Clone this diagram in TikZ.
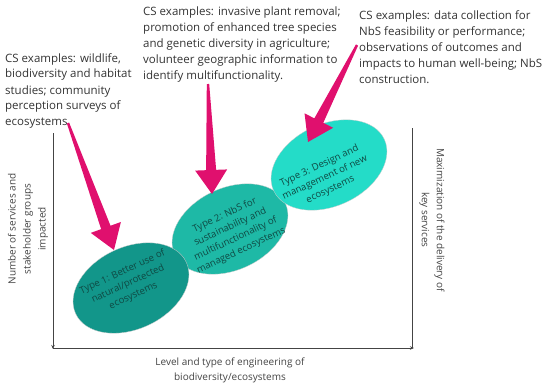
\documentclass[tikz,border=0pt]{standalone}
\usepackage{fontspec}
\setmainfont{Open Sans}
\usetikzlibrary{shapes.geometric,calc,arrows.meta}
\definecolor{pinkarrow}{HTML}{E0106E}
\definecolor{tone}{HTML}{12968A}
\definecolor{ttwo}{HTML}{1EB9A6}
\definecolor{tthree}{HTML}{24DCC8}
\definecolor{etextc}{HTML}{0F4A44}
\definecolor{txt}{HTML}{333333}
\definecolor{axc}{HTML}{444444}
\newcommand\csarrow[2]{%
  \coordinate (#1h) at ($(#2)!24pt!(#1)$);
  \fill[pinkarrow] ($(#1)!1.2pt!90:(#2)$) -- ($(#1h)!5pt!90:(#2)$) -- ($(#1h)!16pt!90:(#2)$) -- (#2)
    -- ($(#1h)!16pt!-90:(#2)$) -- ($(#1h)!5pt!-90:(#2)$) -- ($(#1)!1.2pt!-90:(#2)$) -- cycle;}
\begin{document}
\begin{tikzpicture}[x=1pt,y=-1pt,
  cstext/.style={text=txt,font=\fontsize{11.5}{16}\selectfont,align=left,inner sep=0pt,anchor=north west},
  eli/.style={ellipse,minimum width=122pt,minimum height=82pt,rotate=25,inner sep=0pt,draw=black!20,line width=0.3pt},
  etext/.style={text=etextc,font=\fontsize{9.6}{13}\selectfont,align=center,rotate=25,inner sep=0pt},
  axtext/.style={text=axc,font=\fontsize{10}{15}\selectfont,align=center,inner sep=0pt},
  axis/.style={draw=axc,line width=0.8pt}]
\useasboundingbox (0,0) rectangle (550,388);
% text blocks
\node[cstext] (cs1) at (5,53) {CS examples: wildlife,\\biodiversity and habitat\\studies; community\\perception surveys of\\ecosystems.};
\node[cstext] (cs2) at (143,7) {CS examples: invasive plant removal;\\promotion of enhanced tree species\\and genetic diversity in agriculture;\\volunteer geographic information to\\identify multifunctionality.};
\node[cstext] (cs3) at (359,11) {CS examples: data collection for\\NbS feasibility or performance;\\observations of outcomes and\\impacts to human well-being; NbS\\construction.};
% axes
\coordinate (ltop) at (53,133);
\coordinate (corner) at (53,349);
\coordinate (xstart) at (53,348);
\coordinate (xend) at (414,348);
\coordinate (rtop) at (412,128);
\coordinate (rbot) at (412,348);
\draw[axis,-{Stealth[length=4pt,width=3.5pt]}] (ltop) -- (corner);
\draw[axis,-{Stealth[length=4pt,width=3.5pt]}] (xstart) -- (xend);
\draw[axis] (rtop) -- (rbot);
% ellipses
\node[eli,fill=ttwo] (e2) at (230,229) {};
\node[eli,fill=tone] (e1) at (131,288) {};
\node[eli,fill=tthree] (e3) at (329,165) {};
\node[etext] (l1) at (128,284) {Type 1: Better use of\\natural/protected\\ecosystems};
\node[etext] (l2) at (233,233) {Type 2: NbS for\\sustainability and\\multifunctionality of\\managed ecosystems};
\node[etext] (l3) at (325,178) {Type 3: Design and\\management of new\\ecosystems};
% axis labels
\node[axtext,rotate=90] (yl) at (28,229) {Number of services and\\stakeholder groups\\impacted};
\node[axtext,rotate=-90] (yr) at (432,220) {Maximization of the delivery of\\key services};
\node[axtext] (xl) at (230,370) {Level and type of engineering of\\biodiversity/ecosystems};
% pink arrows
\coordinate (a1s) at (68,123);
\coordinate (a1e) at (114,250);
\coordinate (a2s) at (208,84);
\coordinate (a2e) at (212,194);
\coordinate (a3s) at (357,45);
\coordinate (a3e) at (308,142);
\csarrow{a1s}{a1e}
\csarrow{a2s}{a2e}
\csarrow{a3s}{a3e}
\end{tikzpicture}
\end{document}
